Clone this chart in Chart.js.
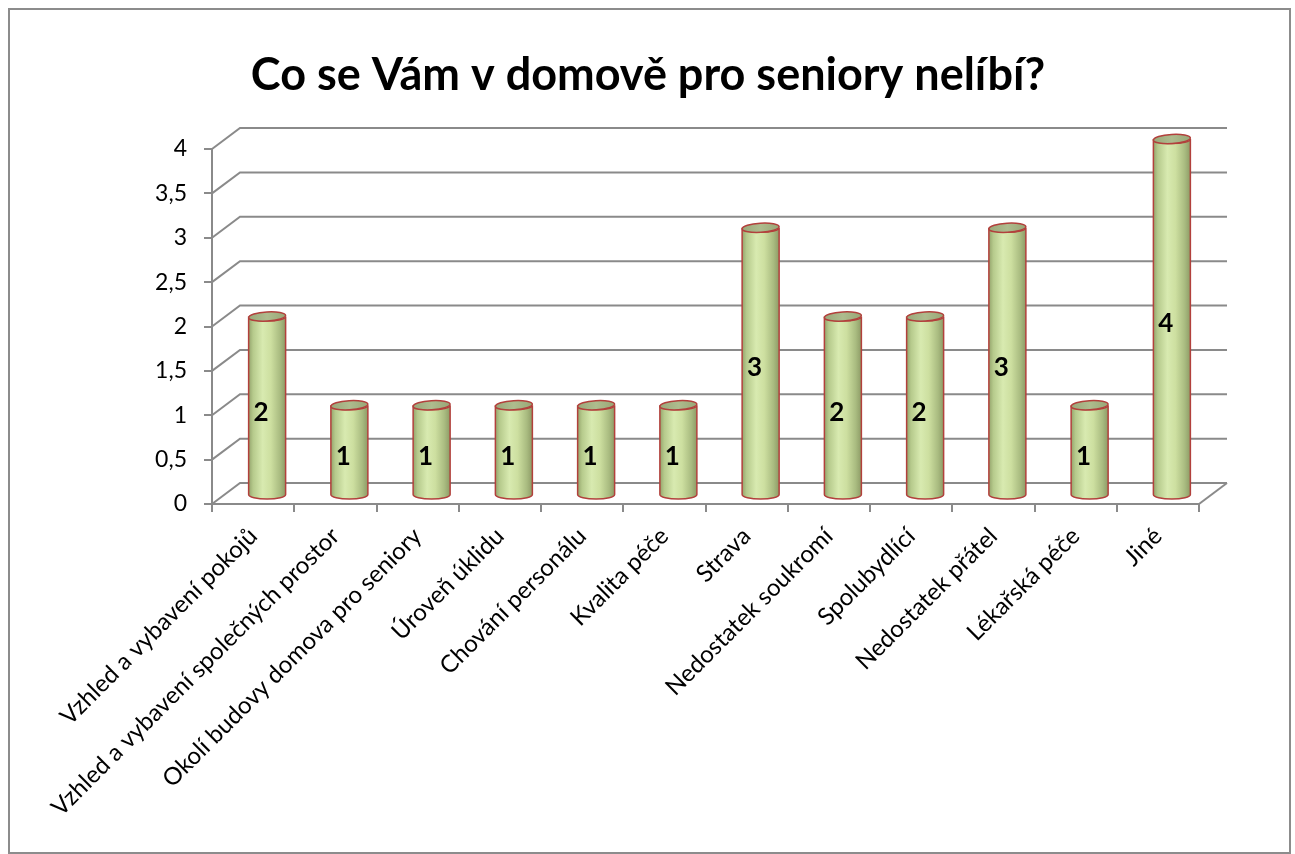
<!DOCTYPE html>
<html>
<head>
<meta charset="utf-8">
<script src="https://cdn.jsdelivr.net/npm/chart.js@4.4.1/dist/chart.umd.min.js"></script>
<style>
html,body{margin:0;padding:0;background:#fff;}
canvas{display:block;}
</style>
</head>
<body>
<canvas id="c" width="1295" height="854"></canvas>
<script>
const titleText = 'Co se Vám v domově pro seniory nelíbí?';
const categories = [
  'Vzhled a vybavení pokojů',
  'Vzhled a vybavení společných prostor',
  'Okolí budovy domova pro seniory',
  'Úroveň úklidu',
  'Chování personálu',
  'Kvalita péče',
  'Strava',
  'Nedostatek soukromí',
  'Spolubydlící',
  'Nedostatek přátel',
  'Lékařská péče',
  'Jiné'
];
const values = [2, 1, 1, 1, 1, 1, 3, 2, 2, 3, 1, 4];
const yTickLabels = ['0', '0,5', '1', '1,5', '2', '2,5', '3', '3,5', '4'];

const GRID = '#8a8a8a';
const DEPTH_X = 28, DEPTH_Y = -21;

const frame3d = {
  id: 'frame3d',
  beforeDraw(chart) {
    const ctx = chart.ctx;
    ctx.save();
    ctx.fillStyle = '#ffffff';
    ctx.fillRect(0, 0, chart.width, chart.height);
    ctx.strokeStyle = '#8c8c8c';
    ctx.lineWidth = 2;
    ctx.strokeRect(9, 9, 1281, 844);
    // title
    ctx.fillStyle = '#000';
    ctx.font = 'bold 45px Lato';
    ctx.textAlign = 'center';
    ctx.textBaseline = 'middle';
    ctx.fillText(titleText, 648, 75);
    ctx.restore();
  },
  beforeDatasetsDraw(chart) {
    const ctx = chart.ctx;
    const a = chart.chartArea;
    const ys = chart.scales.y;
    ctx.save();
    ctx.strokeStyle = GRID;
    ctx.lineWidth = 2;
    ys.ticks.forEach(t => {
      const y = ys.getPixelForValue(t.value);
      ctx.beginPath();
      ctx.moveTo(a.left, y);
      ctx.lineTo(a.left + DEPTH_X, y + DEPTH_Y);
      ctx.lineTo(a.right + DEPTH_X, y + DEPTH_Y);
      ctx.stroke();
    });
    const y0 = ys.getPixelForValue(0);
    ctx.beginPath();
    ctx.moveTo(a.right, y0);
    ctx.lineTo(a.right + DEPTH_X, y0 + DEPTH_Y);
    ctx.stroke();
    ctx.restore();
  },
  afterDatasetsDraw(chart) {
    const ctx = chart.ctx;
    const ys = chart.scales.y;
    const meta = chart.getDatasetMeta(0);
    const data = chart.data.datasets[0].data;
    meta.data.forEach((el, i) => {
      const cx = el.x + 14;
      const rx = 18.5, ry = 4.6;
      const topY = el.y - 10;
      const botY = el.base - 8.5;
      ctx.save();
      const g = ctx.createLinearGradient(cx - rx, 0, cx + rx, 0);
      g.addColorStop(0, '#94a46c');
      g.addColorStop(0.12, '#b6ca8c');
      g.addColorStop(0.38, '#d8eab0');
      g.addColorStop(0.6, '#cddfa0');
      g.addColorStop(0.85, '#a9bb80');
      g.addColorStop(1, '#8d9b66');
      ctx.beginPath();
      ctx.moveTo(cx - rx, topY);
      ctx.lineTo(cx - rx, botY);
      ctx.ellipse(cx, botY, rx, ry, 0, Math.PI, 0, true);
      ctx.lineTo(cx + rx, topY);
      ctx.ellipse(cx, topY, rx, ry, 0, 0, Math.PI, false);
      ctx.closePath();
      ctx.fillStyle = g;
      ctx.fill();
      ctx.strokeStyle = '#b2403c';
      ctx.lineWidth = 1.5;
      ctx.stroke();
      ctx.beginPath();
      ctx.ellipse(cx, topY, rx, ry, -0.06, 0, Math.PI * 2);
      const tg = ctx.createLinearGradient(cx - rx, 0, cx + rx, 0);
      tg.addColorStop(0, '#9aa87a');
      tg.addColorStop(0.5, '#aebc8e');
      tg.addColorStop(1, '#98a676');
      ctx.fillStyle = tg;
      ctx.fill();
      ctx.stroke();
      ctx.fillStyle = '#000';
      ctx.font = 'bold 26px Lato';
      ctx.textAlign = 'center';
      ctx.textBaseline = 'middle';
      ctx.fillText(String(data[i]), el.x + 8, ys.getPixelForValue(data[i] / 2) - 3);
      ctx.restore();
    });
  }
};

new Chart(document.getElementById('c'), {
  type: 'bar',
  data: {
    labels: categories,
    datasets: [{
      data: values,
      backgroundColor: 'rgba(0,0,0,0)',
      borderWidth: 0
    }]
  },
  options: {
    responsive: false,
    devicePixelRatio: 1,
    animation: false,
    events: [],
    layout: { padding: { left: 0, right: 96, top: 149, bottom: 0 } },
    plugins: {
      legend: { display: false },
      tooltip: { enabled: false },
      title: { display: false }
    },
    scales: {
      x: {
        grid: { display: true, offset: true, drawOnChartArea: false, drawTicks: true, tickLength: 8, color: GRID, lineWidth: 2 },
        border: { display: true, color: GRID, width: 2 },
        ticks: {
          color: '#000',
          font: { family: 'Lato', size: 24 },
          minRotation: 45, maxRotation: 45,
          autoSkip: false,
          padding: 10
        },
        afterFit(s) { s.height = 350; s.paddingLeft = 0; s.paddingRight = 0; }
      },
      y: {
        min: 0, max: 4,
        grid: { display: true, drawOnChartArea: false, drawTicks: true, tickLength: 8, color: GRID, lineWidth: 2 },
        border: { display: true, color: GRID, width: 2 },
        ticks: {
          stepSize: 0.5,
          color: '#000',
          font: { family: 'Lato', size: 23 },
          padding: 17,
          callback: (v, i) => yTickLabels[i]
        },
        afterFit(s) { s.width = 212; s.paddingTop = 0; s.paddingBottom = 0; }
      }
    }
  },
  plugins: [frame3d]
});
</script>
</body>
</html>
